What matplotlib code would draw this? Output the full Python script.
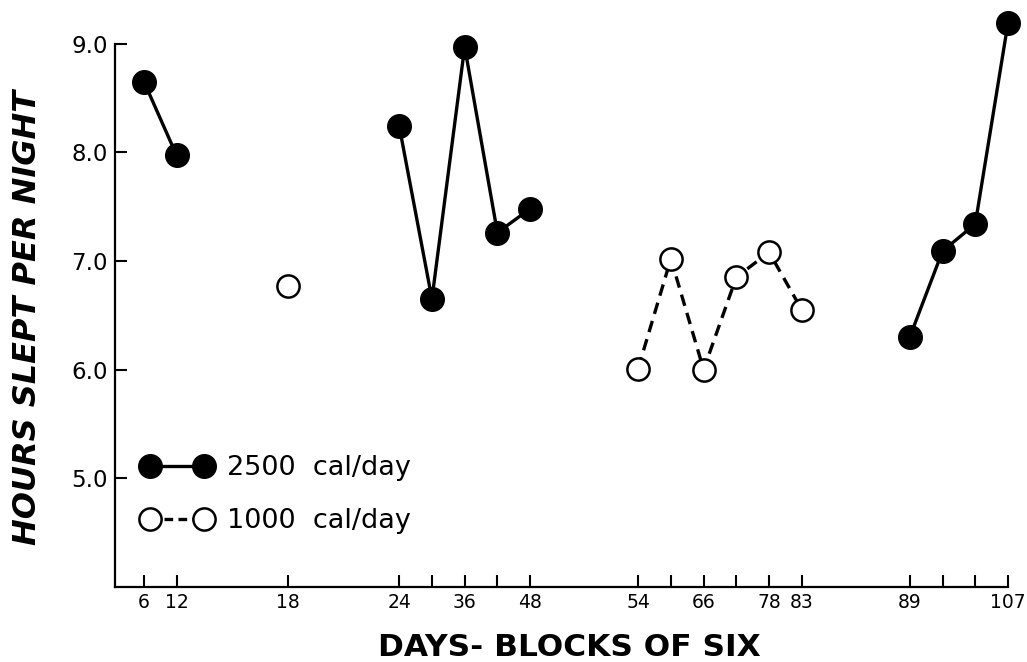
import matplotlib
matplotlib.use('Agg')
import matplotlib.pyplot as plt
from matplotlib.lines import Line2D
import numpy as np

# days (end of each six-day block) and hours slept, one list per connected run
high_days = [[6, 12], [24, 30, 36, 42, 48], [89, 95, 101, 107]]
high_hours = [[8.65, 7.97], [8.24, 6.65, 8.97, 7.26, 7.48], [6.30, 7.09, 7.34, 9.19]]
low_days = [[18], [54, 60, 66, 72, 78, 83]]
low_hours = [[6.77], [6.01, 7.02, 6.00, 6.85, 7.08, 6.55]]

tick_days = [6, 12, 18, 24, 30, 36, 42, 48, 54, 60, 66, 72, 78, 83, 89, 95, 101, 107]
tick_text = ['6', '12', '18', '24', '', '36', '', '48', '54', '', '66', '', '78', '83',
             '89', '', '', '107']
y_ticks = [5.0, 6.0, 7.0, 8.0, 9.0]

# the axis is drawn in six-day blocks with breaks between the periods
anchor_days = [0] + tick_days + [113]
anchor_pos = [-1, 0, 1, 4.4, 7.8, 8.8, 9.8, 10.8, 11.8, 15.1, 16.1, 17.1, 18.1, 19.1, 20.1,
              23.4, 24.4, 25.4, 26.4, 27.4]


def fwd(x):
    return np.interp(x, anchor_days, anchor_pos)


def inv(x):
    return np.interp(x, anchor_pos, anchor_days)


plt.rcParams['font.family'] = ['DejaVu Sans']

fig = plt.figure(figsize=(10.27, 6.62), dpi=100)
ax = fig.add_axes([115 / 1027, 1 - 587 / 662, 893 / 1027, (587 - 10.9) / 662])
ax.set_xscale('function', functions=(fwd, inv))

lw = 2.4
dash = (0, (3.5, 2.2))
for d, h in zip(high_days, high_hours):
    ax.plot(d, h, color='black', lw=lw, marker='o', ms=17, mfc='black', mec='black',
            mew=1, clip_on=False, zorder=3)
for d, h in zip(low_days, low_hours):
    ax.plot(d, h, color='black', lw=lw, ls=dash, marker='o', ms=16, mfc='white',
            mec='black', mew=1.8, clip_on=False, zorder=3)

ax.set_xlim(0.7, 107)
ax.set_ylim(4.0, 9.3)
ax.set_xticks(tick_days)
ax.set_xticklabels(tick_text)
ax.set_yticks(y_ticks)
ax.set_yticklabels(['%.1f' % v for v in y_ticks])
ax.minorticks_off()

for s in ['top', 'right']:
    ax.spines[s].set_visible(False)
ax.spines['left'].set_bounds(4.0, 9.0)
ax.spines['left'].set_linewidth(1.6)
ax.spines['bottom'].set_linewidth(1.6)

ax.tick_params(axis='both', direction='in', length=8.5, width=1.5)
ax.tick_params(axis='x', labelsize=13.5, pad=4)
ax.tick_params(axis='y', labelsize=16.5, pad=5)

fig.text(569 / 1027, 1 - 647 / 662, 'DAYS- BLOCKS OF SIX', ha='center', va='center',
         fontsize=22.5, fontweight='bold')
fig.text(28 / 1027, 1 - 317 / 662, 'HOURS SLEPT PER NIGHT', ha='center', va='center',
         rotation=90, fontsize=23, fontweight='bold', fontstyle='italic')

handles = [
    Line2D([], [], color='black', lw=lw, marker='o', ms=17, mfc='black', mec='black', mew=1),
    Line2D([], [], color='black', lw=lw, ls=(0, (2.6, 1.6)), marker='o', ms=16, mfc='white',
           mec='black', mew=1.8),
]
fs = 19.5
pad = 0.3 * fs * 100 / 72
ax.legend(handles, ['2500  cal/day', '1000  cal/day'], loc='upper left',
          bbox_to_anchor=((150 - pad) / 1027, 1 - 455 / 662), bbox_transform=fig.transFigure,
          frameon=False, numpoints=2, fontsize=fs,
          handlelength=(53.5 + 2 * pad) / (fs * 100 / 72), handletextpad=0.55,
          labelspacing=1.0, borderpad=0, borderaxespad=0)

fig.savefig('out.png', dpi=100)
